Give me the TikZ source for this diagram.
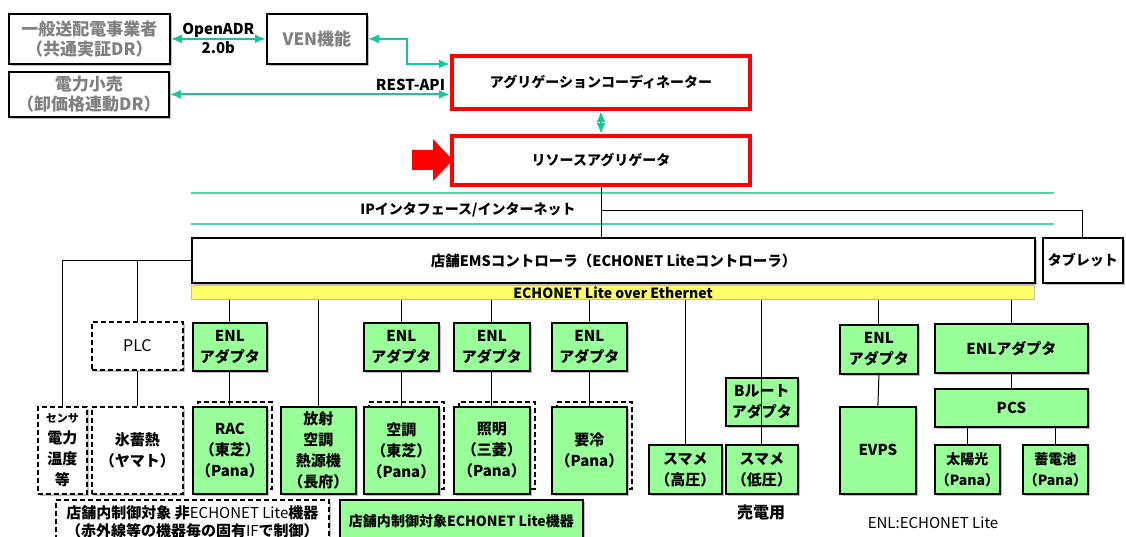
\documentclass[tikz,border=0pt]{standalone}
\usepackage{fontspec}
\setmainfont{Noto Sans CJK JP}
\usetikzlibrary{shadows,arrows.meta}
\definecolor{lgreen}{RGB}{153,255,153}
\definecolor{teal1}{RGB}{20,200,150}
\definecolor{tline}{RGB}{80,210,170}
\definecolor{gtxt}{RGB}{128,128,128}
\definecolor{ybar}{RGB}{255,255,102}
\begin{document}
\begin{tikzpicture}[x=1pt,y=-1pt,
  base/.style={draw=black, line width=1.8pt, align=center, inner sep=0pt, anchor=north west,
    font=\bfseries\fontsize{15}{21}\selectfont},
  sh/.style={drop shadow={shadow xshift=2pt, shadow yshift=-2pt, fill=black, opacity=0.25}},
  gbox/.style={base, sh, fill=lgreen},
  wbox/.style={base, sh, fill=white},
  graybox/.style={base, sh, fill=white, text=gtxt, font=\bfseries\fontsize{17}{20}\selectfont},
  redbox/.style={base, sh, draw=red, line width=4pt, fill=white, font=\bfseries\fontsize{14}{18}\selectfont},
  dbox/.style={base, sh, fill=white, dash pattern=on 5pt off 3pt},
  ghost/.style={draw=black, line width=1.5pt, dash pattern=on 5pt off 3pt, fill=white, anchor=north west, inner sep=0pt},
  conn/.style={draw=black, line width=1pt},
  garr/.style={draw=teal1, line width=2pt, {Latex[length=11pt,width=9pt]}-{Latex[length=11pt,width=9pt]}},
  tl/.style={draw=tline, line width=1.5pt},
  lbl/.style={font=\bfseries\fontsize{14}{20}\selectfont, inner sep=0pt, align=center},
  wh/.style 2 args={minimum width=#1, minimum height=#2}
]
\useasboundingbox (0,0) rectangle (1126,537);

% top
\node[graybox, wh={161}{50}] (tso) at (8,13) {一般送配電事業者\\（共通実証DR）};
\node[graybox, wh={100}{50}] (ven) at (266,13) {VEN機能};
\node[graybox, wh={160}{45}] (retail) at (8,71) {電力小売\\（卸価格連動DR）};
\node[redbox, wh={298}{53}] (ac) at (450,54) {アグリゲーションコーディネーター};
\node[redbox, wh={298}{49}] (ra) at (450,134) {リソースアグリゲータ};

\draw[garr] (tso.east) -- node[lbl, font=\bfseries\fontsize{15}{19}\selectfont]{OpenADR\\2.0b} (ven.west);
\coordinate (bend) at (407,64);
\draw[garr] (ven.east) -| (bend) -- (ac.west |- bend);
\draw[garr] (retail.east) -- (retail.east -| ac.west)
  node[pos=1, lbl, font=\bfseries\fontsize{15}{19}\selectfont, anchor=south east, xshift=-4pt, yshift=3pt] {REST-API};
\draw[garr] (ac.south) -- (ra.north);
\fill[red] (412,150) -- (433,150) -- (433,139) -- (453,160) -- (433,181) -- (433,170) -- (412,170) -- cycle;

% network
\coordinate (t1a) at (191,193); \coordinate (t1b) at (1054,193);
\coordinate (t2a) at (191,224); \coordinate (t2b) at (1054,224);
\draw[tl] (t1a) -- (t1b);
\draw[tl] (t2a) -- (t2b);
\node[lbl] (ip) at (468,210) {IPインタフェース/インターネット};

\node[wbox, wh={843}{45}, line width=2pt, font=\bfseries\fontsize{14.5}{18}\selectfont] (ems) at (191,237) {店舗EMSコントローラ（ECHONET Liteコントローラ）};
\node[wbox, wh={80}{45}, font=\bfseries\fontsize{14}{18}\selectfont] (tab) at (1042,237) {タブレット};
\node[base, fill=ybar, draw=black!25, line width=1pt, wh={843}{14}, font=\bfseries\fontsize{14}{14}\selectfont] (bar) at (191,285) {ECHONET Lite over Ethernet};

\draw[conn] (ra.south) -- (ra.south |- ems.north);
\draw[conn] (ra.south |- 0,211) -| (tab.north);

% left, non-ECHONET
\node[dbox, wh={91}{48}, font=\fontsize{16}{18}\selectfont] (plc) at (91,321) {PLC};
\node[dbox, wh={49}{87}] (sensor) at (37,406) {{\fontsize{11}{14}\selectfont センサ}\\電力\\温度\\等};
\node[dbox, wh={91}{87}] (ice) at (91,406) {氷蓄熱\\（ヤマト）};
\draw[conn] (ems.west) -| (sensor.north);
\draw[conn] (plc.north) -- (plc.north |- ems.west);
\draw[conn] (plc.south) -- (ice.north);

% ENL adapters with devices
\node[gbox, wh={74}{48}] (enl1) at (192,322) {ENL\\アダプタ};
\node[ghost, wh={74}{87}] (racg) at (197,401) {};
\node[gbox, wh={74}{87}] (rac) at (192,406) {RAC\\（東芝）\\（Pana）};
\node[gbox, wh={75}{87}] (rad) at (280,406) {放射\\空調\\熱源機\\（長府）};

\node[gbox, wh={75}{48}] (enl2) at (363,322) {ENL\\アダプタ};
\node[ghost, wh={75}{87}] (acg) at (368,401) {};
\node[gbox, wh={75}{87}] (aircon) at (363,406) {空調\\（東芝）\\（Pana）};

\node[gbox, wh={76}{48}] (enl3) at (453,322) {ENL\\アダプタ};
\node[ghost, wh={76}{87}] (lightg) at (458,401) {};
\node[gbox, wh={76}{87}] (light) at (453,406) {照明\\（三菱）\\（Pana）};

\node[gbox, wh={75}{48}] (enl4) at (551,322) {ENL\\アダプタ};
\node[ghost, wh={75}{87}] (refg) at (556,401) {};
\node[gbox, wh={75}{87}] (ref) at (551,406) {要冷\\（Pana）};

\node[gbox, wh={73}{49}] (smh) at (648,444) {スマメ\\（高圧）};
\node[gbox, wh={72}{48}] (broute) at (725,377) {Bルート\\アダプタ};
\node[gbox, wh={72}{49}] (sml) at (725,444) {スマメ\\（低圧）};
\node[lbl, font=\bfseries\fontsize{16}{20}\selectfont] (sell) at (761,512) {売電用};

\node[gbox, wh={78}{49}] (enl5) at (839,324) {ENL\\アダプタ};
\node[gbox, wh={76}{87}] (evps) at (839,406) {EVPS};
\node[gbox, wh={153}{49}] (enl6) at (934,323) {ENLアダプタ};
\node[gbox, wh={153}{38}] (pcs) at (934,388) {PCS};
\node[gbox, wh={65}{49}, font=\bfseries\fontsize{14}{21}\selectfont] (sol) at (934,444) {太陽光\\（Pana）};
\node[gbox, wh={65}{49}, font=\bfseries\fontsize{14}{21}\selectfont] (bat) at (1022,444) {蓄電池\\（Pana）};
\node[inner sep=0pt, font=\fontsize{15}{15}\selectfont] (note) at (933,523) {ENL:ECHONET Lite};

% bus drops
\foreach \n in {enl1,rad,enl2,enl3,enl4,smh,sml,enl5,enl6}
  \draw[conn] (\n.north |- bar.south) -- (\n.north);
\draw[conn] (enl1.south) -- (rac.north);
\draw[conn] (enl2.south) -- (aircon.north);
\draw[conn] (enl3.south) -- (light.north);
\draw[conn] (enl4.south) -- (ref.north);
\draw[conn] (broute.south) -- (sml.north);
\draw[conn] (enl5.south) -- (evps.north);
\draw[conn] (enl6.south) -- (pcs.north);
\draw[conn] (pcs.south -| sol.north) -- (sol.north);
\draw[conn] (pcs.south -| bat.north) -- (bat.north);

% bottom labels
\node[dbox, wh={273}{43}, font=\bfseries\fontsize{15}{18}\selectfont] (nonlbl) at (55,499)
  {店舗内制御対象 非{\mdseries ECHONET Lite}機器\\（赤外線等の機器毎の固有{\mdseries IF}で制御）};
\node[gbox, wh={243}{42}, font=\bfseries\fontsize{14}{17}\selectfont] (enllbl) at (339,499) {店舗内制御対象ECHONET Lite機器};
\end{tikzpicture}
\end{document}
